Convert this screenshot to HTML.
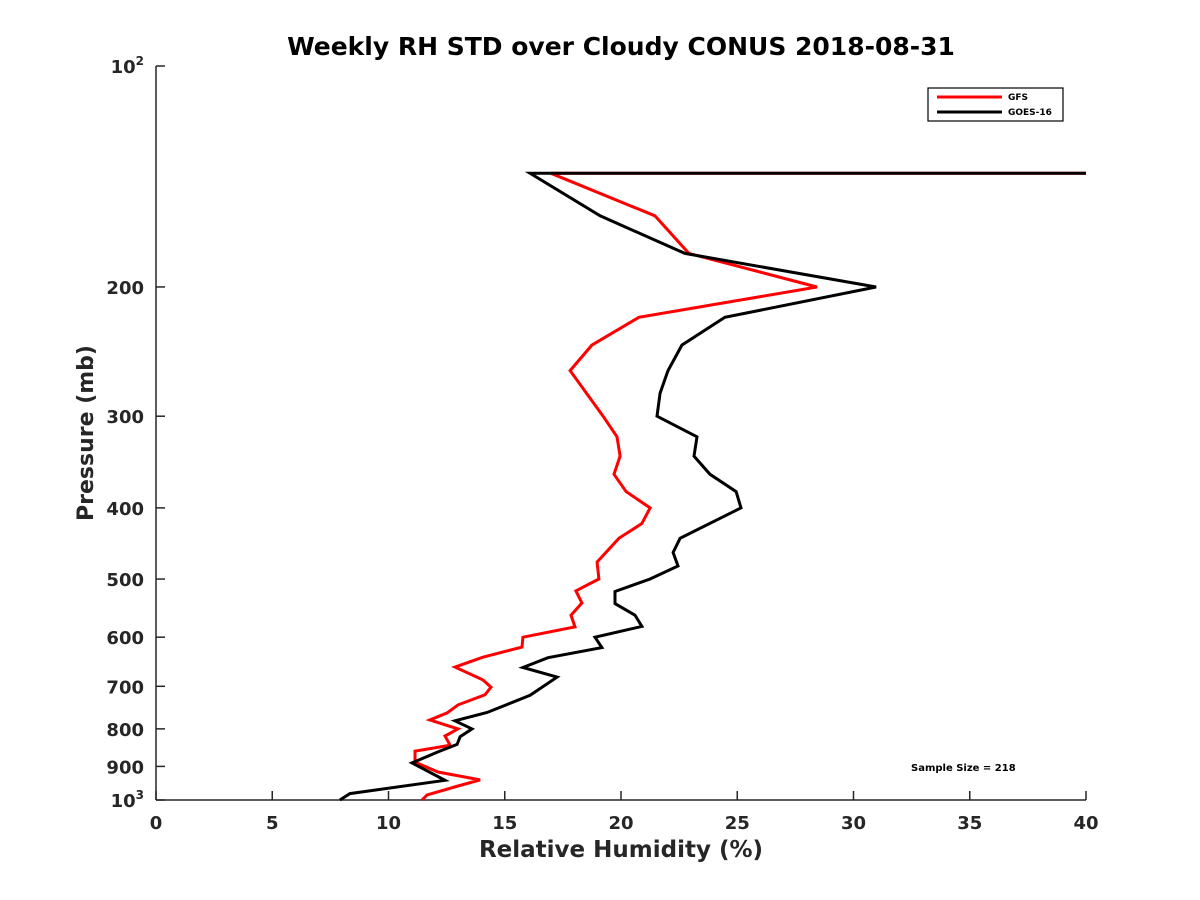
<!DOCTYPE html>
<html><head><meta charset="utf-8"><style>
body{margin:0;background:#fff;}
svg{display:block;font-family:"DejaVu Sans","Liberation Sans",sans-serif;}
</style></head><body>
<svg id="chart" width="1200" height="900"></svg>
<script>
const xTicks=[0,5,10,15,20,25,30,35,40];
const yTicks=[100,200,300,400,500,600,700,800,900,1000];
const yTickLabels=["10²","200","300","400","500","600","700","800","900","10³"];
const gfsPressure=[140,140,160,180,200,220,240,260,300,320,340,360,380,400,420,440,474,500,519,539,560,581,600,619,639,659,686,702,719,742,761,778,800,818,842,858,888,916,939,957,984,1000];
const gfsRH=[40,16.99,21.46,22.92,28.43,20.77,18.75,17.81,19.23,19.83,19.96,19.70,20.22,21.25,20.90,19.91,18.97,19.05,18.06,18.32,17.85,18.02,15.78,15.74,14.06,12.86,14.06,14.41,14.15,12.99,12.52,11.78,12.99,12.43,12.65,11.14,11.14,12.13,13.94,12.99,11.66,11.44];
const goesPressure=[140,140,160,180,200,220,240,260,279,300,320,340,360,380,400,440,460,480,500,520,540,560,580,600,620,640,660,680,720,760,780,800,820,840,860,890,940,980,1000];
const goesRH=[40,16.09,19.10,22.75,30.97,24.47,22.62,22.02,21.68,21.55,23.27,23.14,23.83,24.95,25.16,22.54,22.24,22.45,21.25,19.74,19.74,20.60,20.90,18.88,19.18,16.86,15.78,17.25,16.09,14.24,12.86,13.59,13.08,12.95,12.13,11.01,12.43,8.34,7.91];

const NS="http://www.w3.org/2000/svg";
const svg=document.getElementById('chart');
const X0=156,X1=1086,Y0=66,Y1=800;
const xs=v=>X0+(v-0)/(40-0)*(X1-X0);
const ys=p=>Y0+(Math.log10(p)-2)*(Y1-Y0);
function mk(tag,attrs,text){const e=document.createElementNS(NS,tag);for(const k in attrs)e.setAttribute(k,attrs[k]);if(text!==undefined)e.textContent=text;svg.appendChild(e);return e;}
const ax='#262626';
let e;
e=mk('line',{x1:X0,y1:Y0,x2:X0,y2:Y1,stroke:ax,'stroke-width':1.5});


e=mk('line',{x1:X0,y1:Y1,x2:X1,y2:Y1,stroke:ax,'stroke-width':1.5});


xTicks.forEach(v=>{
  e=mk('line',{x1:xs(v),y1:Y1,x2:xs(v),y2:Y1-9,stroke:ax,'stroke-width':1.5});
  
  
  e=mk('text',{x:xs(v),y:Y1+29,'text-anchor':'middle','font-size':18,'font-weight':'bold',fill:ax},String(v));
  
  
});
yTicks.forEach((p,i)=>{
  e=mk('line',{x1:X0,y1:ys(p),x2:X0+9,y2:ys(p),stroke:ax,'stroke-width':1.5});
  
  
  const lab=yTickLabels[i];
  if(lab.length===3&&(lab[2]==='²'||lab[2]==='³')){
    e=mk('text',{x:X0-12,y:ys(p)+7,'text-anchor':'end','font-size':18,'font-weight':'bold',fill:ax});
    const t1=document.createElementNS(NS,'tspan');t1.textContent='10';e.appendChild(t1);
    const t2=document.createElementNS(NS,'tspan');t2.setAttribute('dy','-8');t2.setAttribute('font-size','12');t2.textContent=lab[2]==='²'?'2':'3';e.appendChild(t2);
  } else {
    e=mk('text',{x:X0-12,y:ys(p)+7,'text-anchor':'end','font-size':18,'font-weight':'bold',fill:ax},lab);
  }
  
  
});
function series(P,R,color,name){
  const pts=P.map((p,i)=>xs(R[i]).toFixed(1)+','+ys(p).toFixed(1)).join(' ');
  const el=mk('polyline',{points:pts,fill:'none',stroke:color,'stroke-width':3,'stroke-linejoin':'miter'});
  
  
}
series(gfsPressure,gfsRH,'#ff0000','gfs-line');
series(goesPressure,goesRH,'#000000','goes16-line');
e=mk('text',{x:621,y:55,'text-anchor':'middle','font-size':25,'font-weight':'bold',fill:'#000'},'Weekly RH STD over Cloudy CONUS 2018-08-31');


e=mk('text',{x:621,y:857,'text-anchor':'middle','font-size':23,'font-weight':'bold',fill:ax},'Relative Humidity (%)');


e=mk('text',{x:0,y:0,'text-anchor':'middle','font-size':22,'font-weight':'bold',fill:ax,transform:'translate(93,433) rotate(-90)'},'Pressure (mb)');


e=mk('rect',{x:928,y:88,width:135,height:33,fill:'#fff',stroke:'#000','stroke-width':1.2});


e=mk('line',{x1:937,y1:97,x2:1002,y2:97,stroke:'#ff0000','stroke-width':3});


e=mk('text',{x:1008,y:100,'font-size':9,'font-weight':'bold',fill:'#000'},'GFS');


e=mk('line',{x1:937,y1:112,x2:1002,y2:112,stroke:'#000','stroke-width':3});


e=mk('text',{x:1008,y:115,'font-size':9,'font-weight':'bold',fill:'#000'},'GOES-16');


e=mk('text',{x:911,y:771,'font-size':10,'font-weight':'bold',fill:'#000'},'Sample Size = 218');


</script>
</body></html>
